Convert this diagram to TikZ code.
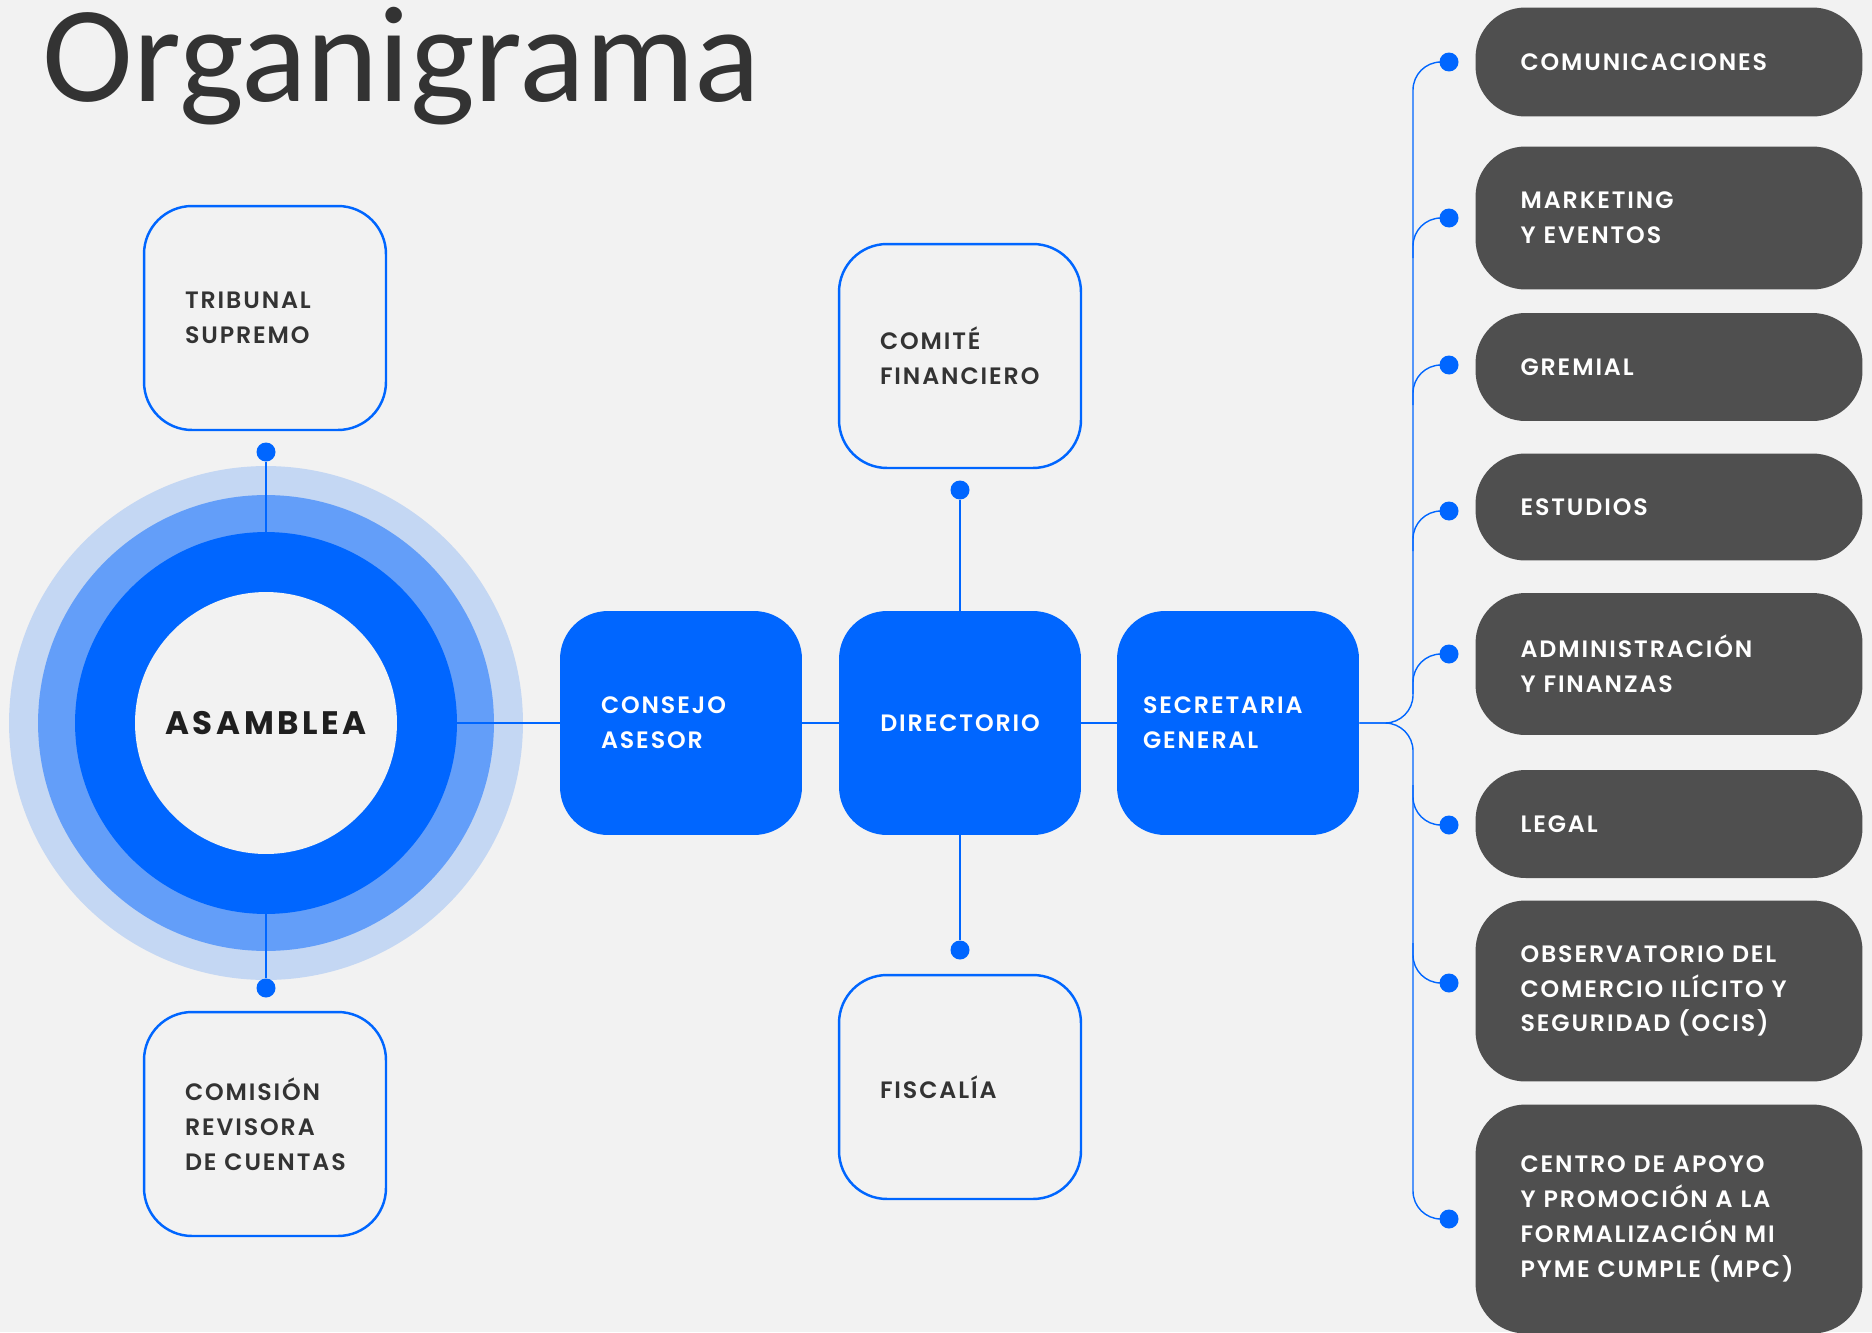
\documentclass[tikz,border=0pt]{standalone}
\usepackage{fontspec}
\usepackage{tikz}
\usetikzlibrary{positioning}
\newfontfamily\cajafont[LetterSpace=8]{Poppins SemiBold}
\newfontfamily\asamfont[LetterSpace=11]{Poppins}
\newfontfamily\titulofont{Carlito}
\definecolor{azul}{HTML}{0066FF}
\definecolor{azulmedio}{HTML}{639EF9}
\definecolor{azulclaro}{HTML}{C4D7F3}
\definecolor{fondo}{HTML}{F2F2F2}
\definecolor{grisosc}{HTML}{4F4F4F}
\definecolor{tinta}{HTML}{333333}

\tikzset{
    caja/.style={rectangle, rounded corners=0.96cm, minimum width=4.84cm, minimum height=4.48cm,
        inner sep=0pt, font=\cajafont\fontsize{13.5}{19.8}\selectfont, align=left, text width=3.2cm},
    cajaborde/.style={caja, draw=azul, line width=1.4pt, fill=fondo, text=tinta},
    cajaazul/.style={caja, fill=azul, text=white},
    area/.style={rectangle, rounded corners=1cm, minimum width=7.74cm, inner sep=0pt, fill=grisosc,
        text=white, font=\cajafont\fontsize{13.5}{19.8}\selectfont, align=left, text width=5.94cm},
    anillo/.style={circle, inner sep=0pt},
    punto/.style={circle, fill=azul, minimum size=0.38cm, inner sep=0pt},
    enlace/.style={draw=azul, line width=0.8pt}
}

\begin{document}
\begin{tikzpicture}[x=0.02cm, y=-0.02cm]
    \fill[fondo] (0,0) rectangle (1872,1332);
    \useasboundingbox (0,0) rectangle (1872,1332);

    \node[anchor=base west, inner sep=0pt, text=tinta, font=\titulofont\fontsize{78}{78}\selectfont] (titulo) at (42,101) {Organigrama};

    \node[anillo, fill=azulclaro, minimum size=10.28cm] (halo2) at (266,723) {};
    \node[anillo, fill=azulmedio, minimum size=9.12cm] (halo1) at (266,723) {};
    \node[anillo, fill=azul, minimum size=7.64cm] (nucleo) at (266,723) {};
    \node[anillo, fill=fondo, minimum size=5.24cm, text=black!88,
        font=\asamfont\bfseries\fontsize{18.5}{22}\selectfont] (asamblea) at (266,723) {ASAMBLEA};

    \node[cajaborde] (tribunal) at (265,318) {TRIBUNAL\\SUPREMO};
    \node[cajaborde] (comision) at (265,1124) {COMISIÓN\\REVISORA\\DE CUENTAS};
    \node[cajaazul] (consejo) at (681,723) {CONSEJO\\ASESOR};
    \node[cajaazul, align=center] (directorio) at (960,723) {DIRECTORIO};
    \node[cajaazul, text width=3.8cm] (secretaria) at (1238,723) {SECRETARIA\\GENERAL};
    \node[cajaborde] (comite) at (960,356) {COMITÉ\\FINANCIERO};
    \node[cajaborde] (fiscalia) at (960,1087) {FISCALÍA};

    \node[punto] (p1) at (266,452) {};
    \node[punto] (p2) at (266,988) {};
    \node[punto] (p3) at (960,490) {};
    \node[punto] (p4) at (960,950) {};

    \draw[enlace] (p1) -- (nucleo.north);
    \draw[enlace] (nucleo.south) -- (p2);
    \draw[enlace] (p3) -- (directorio.north);
    \draw[enlace] (directorio.south) -- (p4);
    \draw[enlace] (nucleo.east) -- (consejo.west);
    \draw[enlace] (consejo.east) -- (directorio.west);
    \draw[enlace] (directorio.east) -- (secretaria.west);

    \node[area, minimum height=2.18cm] (comunicaciones) at (1669,62) {COMUNICACIONES};
    \node[area, minimum height=2.86cm] (marketing) at (1669,218) {MARKETING\\Y EVENTOS};
    \node[area, minimum height=2.16cm] (gremial) at (1669,367) {GREMIAL};
    \node[area, minimum height=2.14cm] (estudios) at (1669,507) {ESTUDIOS};
    \node[area, minimum height=2.84cm] (administracion) at (1669,664) {ADMINISTRACIÓN\\Y FINANZAS};
    \node[area, minimum height=2.16cm] (legal) at (1669,824) {LEGAL};
    \node[area, minimum height=3.62cm] (ocis) at (1669,991) {OBSERVATORIO DEL\\COMERCIO ILÍCITO Y\\SEGURIDAD (OCIS)};
    \node[area, minimum height=4.58cm] (mpc) at (1669,1219) {CENTRO DE APOYO\\Y PROMOCIÓN A LA\\FORMALIZACIÓN MI\\PYME CUMPLE (MPC)};

    \node[punto] (d1) at (1449,62) {};
    \node[punto] (d2) at (1449,218) {};
    \node[punto] (d3) at (1449,365) {};
    \node[punto] (d4) at (1449,511) {};
    \node[punto] (d5) at (1449,654) {};
    \node[punto] (d6) at (1449,825) {};
    \node[punto] (d7) at (1449,983) {};
    \node[punto] (d8) at (1449,1219) {};

    \coordinate (tronco) at (1413,723);
    \draw[enlace, rounded corners=0.56cm] (secretaria.east) -- (tronco) |- (d1);
    \draw[enlace, rounded corners=0.56cm] (secretaria.east) -- (tronco) |- (d8);
    \foreach \d in {d2,d3,d4,d5}
        \draw[enlace, rounded corners=0.56cm] (\d -| tronco) ++(0,40) |- (\d);
    \foreach \d in {d6,d7}
        \draw[enlace, rounded corners=0.56cm] (\d -| tronco) ++(0,-40) |- (\d);
\end{tikzpicture}
\end{document}
